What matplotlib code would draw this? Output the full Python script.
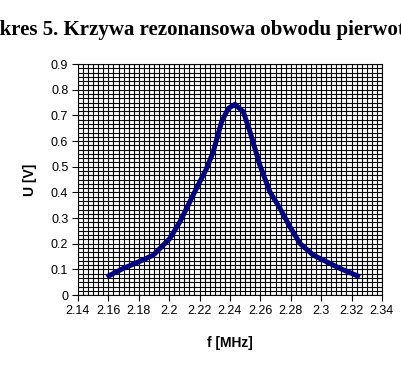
import numpy as np
import matplotlib
matplotlib.use('Agg')
import matplotlib.pyplot as plt
from matplotlib.ticker import MultipleLocator

# 数据
f = [2.1589, 2.1698, 2.1808, 2.1896, 2.2005, 2.2071, 2.2180, 2.2247, 2.2290,
     2.2345, 2.2389, 2.2433, 2.2488, 2.2532, 2.2597, 2.2663, 2.2729, 2.2795,
     2.2861, 2.2948, 2.3036, 2.3124, 2.3255]
u = [0.071, 0.104, 0.132, 0.156, 0.221, 0.286, 0.416, 0.494, 0.558,
     0.675, 0.727, 0.743, 0.714, 0.636, 0.506, 0.402, 0.338, 0.266,
     0.201, 0.156, 0.130, 0.104, 0.071]

title = 'Wykres 5. Krzywa rezonansowa obwodu pierwotnego'
xticks = [2.14, 2.16, 2.18, 2.2, 2.22, 2.24, 2.26, 2.28, 2.3, 2.32, 2.34]
xticklabels = ['2.14', '2.16', '2.18', '2.2', '2.22', '2.24', '2.26', '2.28', '2.3', '2.32', '2.34']
yticks = [0, 0.1, 0.2, 0.3, 0.4, 0.5, 0.6, 0.7, 0.8, 0.9]
yticklabels = ['0', '0.1', '0.2', '0.3', '0.4', '0.5', '0.6', '0.7', '0.8', '0.9']

plt.rcParams['font.family'] = ['Liberation Sans', 'DejaVu Sans']

fig = plt.figure(figsize=(4.02, 3.68), dpi=100)
ax = fig.add_axes([0.194, 0.198, 0.756, 0.628])

ax.set_xlim(2.14, 2.34)
ax.set_ylim(0, 0.9)
ax.set_xticks(xticks)
ax.set_xticklabels(xticklabels)
ax.set_yticks(yticks)
ax.set_yticklabels(yticklabels)
ax.xaxis.set_minor_locator(MultipleLocator(0.02 / 6))
ax.yaxis.set_minor_locator(MultipleLocator(0.1 / 6))
ax.grid(which='both', color='black', linewidth=0.8)
ax.set_axisbelow(True)
ax.tick_params(which='major', direction='out', length=4, width=0.8, labelsize=9, pad=3)
ax.tick_params(which='minor', length=0)
for s in ax.spines.values():
    s.set_color('black')
    s.set_linewidth(0.8)

ax.plot(f, u, color='#000080', linewidth=3.6, solid_capstyle='butt')

ax.set_xlabel('f [MHz]', fontsize=10, fontweight='bold', labelpad=14)
ax.set_ylabel('U [V]', fontsize=10, fontweight='bold', labelpad=10)

# 标题（左右两端被裁切，与原图一致）
fig.text(-0.078, 0.918, title, family=['Liberation Serif', 'DejaVu Serif'],
         fontsize=15, fontweight='bold', ha='left', va='center')

fig.savefig('out.png', dpi=100)
